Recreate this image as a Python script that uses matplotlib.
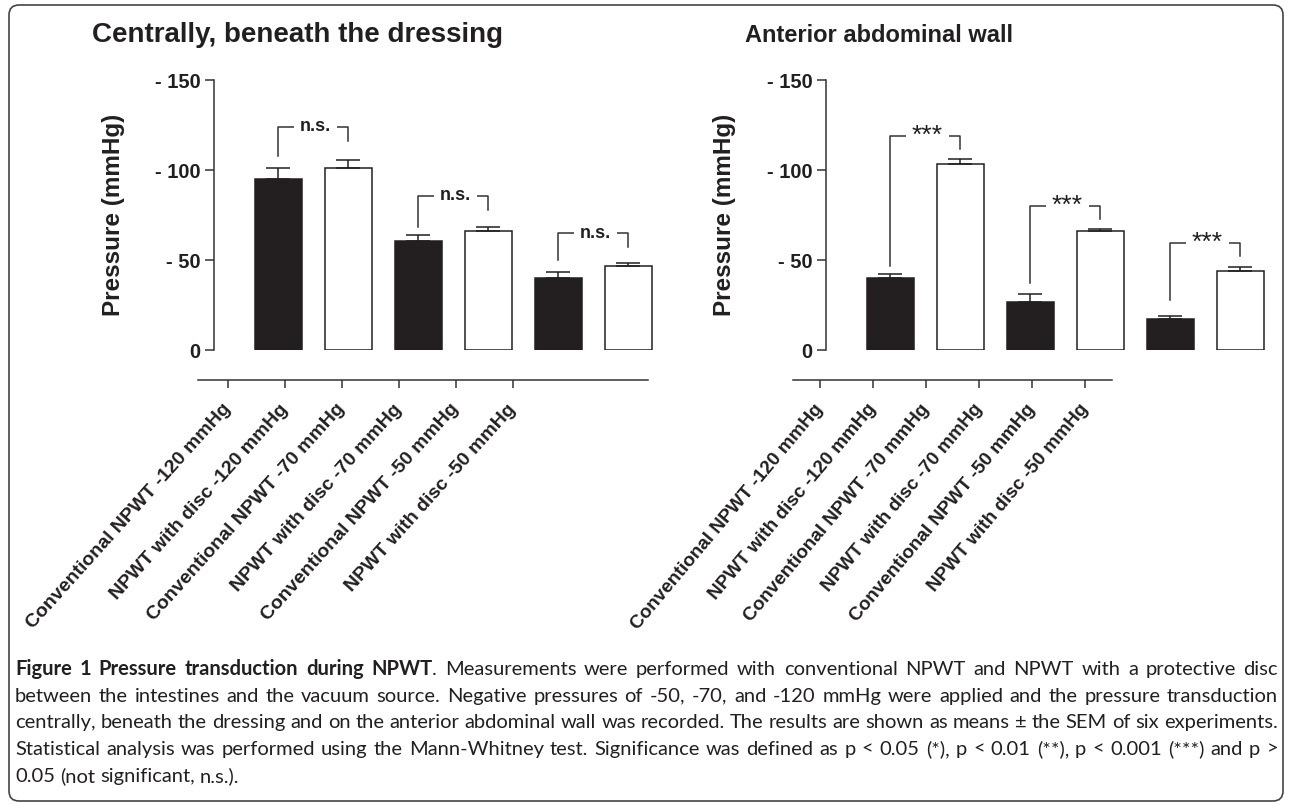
import numpy as np
import matplotlib
matplotlib.use("Agg")
import matplotlib.pyplot as plt
from matplotlib.patches import FancyBboxPatch
from matplotlib.transforms import IdentityTransform

# ---- data ----
groups = ["Conventional NPWT -120 mmHg", "NPWT with disc -120 mmHg",
          "Conventional NPWT -70 mmHg", "NPWT with disc -70 mmHg",
          "Conventional NPWT -50 mmHg", "NPWT with disc -50 mmHg"]

central_mean = [94.8, 101.3, 60.5, 66.3, 39.8, 46.8]
central_sem = [6.5, 4.3, 3.4, 2.2, 3.4, 1.3]
central_sig = ["n.s.", "n.s.", "n.s."]
# (bracket top, left leg bottom, right leg bottom)
central_brackets = [(124, 107.8, 116), (85.7, 68.5, 77.8), (64.8, 50, 57.4)]

wall_mean = [40.2, 103.3, 26.9, 66.1, 17.2, 43.9]
wall_sem = [2.2, 3.0, 4.4, 1.3, 1.7, 2.4]
wall_sig = ["***", "***", "***"]
wall_brackets = [(118.9, 46.8, 111.5), (80.2, 37, 72.6), (59.6, 27.5, 52.2)]

yticks = [0, 50, 100, 150]
ytick_labels = ["0", "- 50", "- 100", "- 150"]

caption = [
    [("Figure 1 Pressure transduction during NPWT", "bold"),
     (". Measurements were performed with conventional NPWT and NPWT with a protective disc", "normal")],
    [("between the intestines and the vacuum source. Negative pressures of -50, -70, and -120 mmHg were applied and the pressure transduction", "normal")],
    [("centrally, beneath the dressing and on the anterior abdominal wall was recorded. The results are shown as means \u00b1 the SEM of six experiments.", "normal")],
    [("Statistical analysis was performed using the Mann-Whitney test. Significance was defined as p < 0.05 (*), p < 0.01 (**), p < 0.001 (***) and p >", "normal")],
    [("0.05 (not significant, n.s.).", "normal")],
]

INK = "#231f20"
AXC = "#333333"
W, H = 1290, 805

plt.rcParams["font.family"] = "Liberation Sans"
fig = plt.figure(figsize=(W / 100, H / 100), dpi=100)


def px_axes(x0, y0, x1, y1):
    return fig.add_axes([x0 / W, 1 - y1 / H, (x1 - x0) / W, (y1 - y0) / H])


def draw_panel(x_spine, mean, sem, sig, brackets, sig_kw):
    ax = px_axes(x_spine, 80, x_spine + 6.42 * 70, 350)
    x = np.arange(len(mean))
    ax.bar(x, mean, width=0.67, color=[INK, "white"] * 3, edgecolor=INK,
           linewidth=1.1, zorder=2)
    ax.errorbar(x, mean, yerr=[np.zeros(len(sem)), sem], fmt="none", ecolor=INK,
                elinewidth=1.1, capsize=8.5, capthick=1.1, zorder=3)
    ax.set_xlim(-0.92, 5.5)
    ax.set_ylim(0, 150)
    for s in ["top", "right", "bottom"]:
        ax.spines[s].set_visible(False)
    ax.spines["left"].set_color(AXC)
    ax.spines["left"].set_linewidth(1.1)
    ax.spines["left"].set_bounds(0, 150)
    ax.set_xticks([])
    ax.set_yticks(yticks)
    ax.set_yticklabels(ytick_labels, fontsize=14.5, fontweight="bold", color=INK)
    ax.tick_params(axis="y", length=6.5, width=1.1, color=AXC, pad=3)
    ax.patch.set_visible(False)

    for i, (top, lb, rb) in enumerate(brackets):
        x1, x2 = 2 * i, 2 * i + 1
        ax.plot([x1, x1, x2, x2], [lb, top, top, rb], color=AXC, lw=1.1, zorder=4)
        ax.text((x1 + x2) / 2 + 0.03, top, sig[i], ha="center", va="center",
                color=INK, zorder=5,
                bbox=dict(facecolor="white", edgecolor="none", pad=4), **sig_kw)
    return ax


def draw_labels(x0, x1, lim, size, angle):
    lab = px_axes(x0, 379, x1, 380)
    lab.set_xlim(*lim)
    lab.set_ylim(0, 1)
    for s in ["top", "right", "left"]:
        lab.spines[s].set_visible(False)
    lab.spines["bottom"].set_color(AXC)
    lab.spines["bottom"].set_linewidth(1.1)
    lab.set_yticks([])
    lab.set_xticks(np.arange(len(groups)))
    lab.set_xticklabels(groups, rotation=angle, ha="right", va="center",
                        rotation_mode="anchor", fontsize=size,
                        fontweight="bold", color=INK)
    lab.tick_params(axis="x", length=6, width=1.1, color=AXC, pad=13)
    lab.patch.set_visible(False)


# left panel
draw_panel(214, central_mean, central_sem, central_sig, central_brackets,
           dict(fontsize=13, fontweight="bold"))
draw_labels(198, 648, (-0.52, 7.36), 14, 48)
fig.text(297 / W, 1 - 35 / H, "Centrally, beneath the dressing", ha="center",
         va="center", fontsize=20, fontweight="bold", color=INK)
fig.text(113 / W, 1 - 215 / H, "Pressure (mmHg)", rotation=90, ha="center",
         va="center", fontsize=17.5, fontweight="bold", color=INK)

# right panel
draw_panel(826, wall_mean, wall_sem, wall_sig, wall_brackets,
           dict(fontsize=19))
draw_labels(793, 1112, (-0.51, 5.5), 13.7, 50)
fig.text(879 / W, 1 - 35 / H, "Anterior abdominal wall", ha="center",
         va="center", fontsize=17, fontweight="bold", color=INK)
fig.text(725 / W, 1 - 215 / H, "Pressure (mmHg)", rotation=90, ha="center",
         va="center", fontsize=17.5, fontweight="bold", color=INK)

# frame around the figure
frame = FancyBboxPatch((9, 4), 1274, 796, boxstyle="round,pad=0,rounding_size=10",
                       transform=IdentityTransform(), fill=False,
                       edgecolor="#444444", linewidth=1.2)
fig.patches.append(frame)

# caption, justified line by line
renderer = fig.canvas.get_renderer()
line_y = [669, 696, 722, 749, 776]
left, right = 15, 1278
for li, runs in enumerate(caption):
    words, cur = [], []
    for text, wt in runs:
        for c in text:
            if c == " ":
                if cur:
                    words.append(cur)
                cur = []
            elif cur and cur[-1][1] == wt:
                cur[-1] = (cur[-1][0] + c, wt)
            else:
                cur.append((c, wt))
    if cur:
        words.append(cur)

    y = 1 - line_y[li] / H
    placed = []
    total = 0
    for word in words:
        pieces = []
        for text, wt in word:
            t = fig.text(0, y, text, fontsize=14.5, fontweight=wt, family="Lato",
                         color=INK, va="center", ha="left")
            w = t.get_window_extent(renderer).width
            pieces.append((t, w))
            total += w
        placed.append(pieces)

    if li < len(caption) - 1:
        gap = (right - left - total) / (len(placed) - 1)
    else:
        gap = 5
    xp = left
    for pieces in placed:
        for t, w in pieces:
            t.set_x(xp / W)
            xp += w
        xp += gap

fig.savefig("out.png", dpi=100)
